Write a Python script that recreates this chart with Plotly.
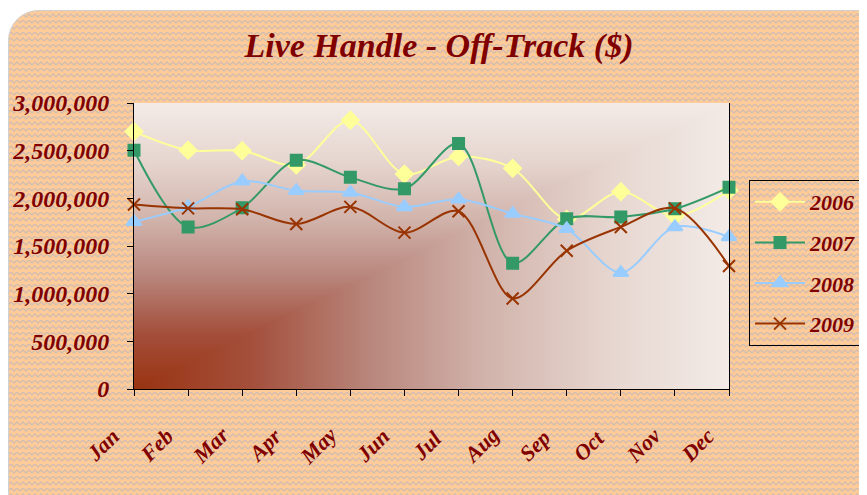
import base64
import plotly.graph_objects as go

months = ["Jan", "Feb", "Mar", "Apr", "May", "Jun", "Jul", "Aug", "Sep", "Oct", "Nov", "Dec"]
y2006 = [2700000, 2505000, 2500000, 2350000, 2820000, 2255000, 2440000, 2315000, 1780000, 2070000, 1815000, 2085000]
y2007 = [2505000, 1700000, 1900000, 2400000, 2220000, 2100000, 2575000, 1320000, 1785000, 1805000, 1890000, 2115000]
y2008 = [1755000, 1910000, 2180000, 2080000, 2060000, 1910000, 1990000, 1840000, 1680000, 1220000, 1700000, 1595000]
y2009 = [1935000, 1895000, 1885000, 1730000, 1910000, 1640000, 1865000, 950000, 1450000, 1700000, 1895000, 1290000]
ytickvals = [0, 500000, 1000000, 1500000, 2000000, 2500000, 3000000]
yticktext = ["0", "500,000", "1,000,000", "1,500,000", "2,000,000", "2,500,000", "3,000,000"]

W, H = 867, 495
ML, MT = 126, 95
PW, PH = 595, 286
MR, MB = W - ML - PW, H - MT - PH

def svg_uri(svg):
    return "data:image/svg+xml;base64," + base64.b64encode(svg.encode()).decode()

paper_svg = f'''<svg xmlns="http://www.w3.org/2000/svg" width="{W}" height="{H}" viewBox="0 0 {W} {H}">
<defs>
<pattern id="p" width="12" height="12" patternUnits="userSpaceOnUse">
<rect width="12" height="12" fill="#FFCC99"/>
<polyline points="0,3 3,0 6,3 9,0 12,3" fill="none" stroke="#D2BDB0" stroke-width="1.4"/>
<polyline points="0,9 3,6 6,9 9,6 12,9" fill="none" stroke="#D2BDB0" stroke-width="1.4"/>
</pattern>
</defs>
<rect width="{W}" height="{H}" fill="#FFFFFF"/>
<rect x="0.5" y="2.5" width="{W+20}" height="{H+20}" rx="30" ry="30" fill="url(#p)" stroke="#D0D0D0" stroke-width="1"/>
</svg>'''

stops = '''<stop offset="0" stop-color="#993311"/>
<stop offset="0.2" stop-color="#A4503C"/>
<stop offset="0.4" stop-color="#B9877D"/>
<stop offset="0.6" stop-color="#D2B5AD"/>
<stop offset="0.8" stop-color="#E6D6CF"/>
<stop offset="1" stop-color="#F3EBE7"/>'''
plot_svg = f'''<svg xmlns="http://www.w3.org/2000/svg" width="{PW}" height="{PH}" viewBox="0 0 {PW} {PH}" preserveAspectRatio="none">
<defs>
<linearGradient id="gh" x1="0" y1="0" x2="1" y2="0">{stops}</linearGradient>
<linearGradient id="gv" x1="0" y1="1" x2="0" y2="0">{stops}</linearGradient>
</defs>
<rect x="0" y="0" width="{PW}" height="{PH}" fill="url(#gh)"/>
<polygon points="0,{PH} 0,0 {PW},0" fill="url(#gv)" stroke="none"/>
</svg>'''

DARK = "#800000"
FONT = "Liberation Serif"

fig = go.Figure()
series = [
    ("2006", y2006, "#FFFF99", "diamond", 13),
    ("2007", y2007, "#339966", "square", 11),
    ("2008", y2008, "#99CCFF", "triangle-up", 13),
    ("2009", y2009, "#993300", "x-thin-open", 12),
]
for name, ys, col, sym, sz in series:
    fig.add_trace(go.Scatter(
        x=months, y=ys, name=f"<b><i>{name}</i></b>", mode="lines+markers",
        line=dict(color=col, width=2, shape="spline", smoothing=0.9),
        marker=dict(symbol=sym, size=sz, color=col, line=dict(color=col, width=2)),
        cliponaxis=False, legendgroup=name,
    ))

for m in months:
    fig.add_annotation(
        x=m, y=0, xref="x", yref="y", text=f"<b><i>{m}</i></b>", showarrow=False,
        textangle=-45, xanchor="center", yanchor="middle", xshift=-32, yshift=-56,
        font=dict(family=FONT, size=22, color=DARK),
    )

fig.update_layout(
    width=W, height=H,
    margin=dict(l=ML, r=MR, t=MT, b=MB, autoexpand=False),
    paper_bgcolor="white", plot_bgcolor="rgba(0,0,0,0)",
    title=dict(text="<b><i>Live Handle - Off-Track ($)</i></b>", x=431 / W, xanchor="center",
               y=1 - 37 / H, yanchor="middle", font=dict(family=FONT, size=34, color=DARK)),
    showlegend=True,
    legend=dict(x=(741 - ML) / PW, y=(MT + PH - 172) / PH, xanchor="left", yanchor="top",
                bgcolor="rgba(0,0,0,0)", bordercolor="black", borderwidth=1,
                font=dict(family=FONT, size=22, color=DARK), entrywidth=130,
                traceorder="grouped", tracegroupgap=9, itemwidth=50),
    images=[
        dict(source=svg_uri(paper_svg), xref="paper", yref="paper", x=-ML / PW, y=1 + MT / PH,
             sizex=W / PW, sizey=H / PH, sizing="stretch", xanchor="left", yanchor="top", layer="below"),
        dict(source=svg_uri(plot_svg), xref="paper", yref="paper", x=0, y=1,
             sizex=1, sizey=1, sizing="stretch", xanchor="left", yanchor="top", layer="below"),
    ],
)
fig.update_xaxes(
    type="category", range=[0, 11], showgrid=False, showline=True, linecolor="black", linewidth=1,
    ticks="outside", ticklen=6, tickcolor="black", automargin=False, showticklabels=False,
)
fig.update_yaxes(
    range=[0, 3000000], tickvals=ytickvals, ticktext=[f"<b><i>{t}</i></b>" for t in yticktext],
    showgrid=False, showline=True, linecolor="black", linewidth=1, mirror=True,
    ticks="outside", ticklen=6, tickcolor="black", zeroline=False, automargin=False,
    tickfont=dict(family=FONT, size=24, color=DARK), ticklabelstandoff=13,
)

fig.write_html("out.html")
